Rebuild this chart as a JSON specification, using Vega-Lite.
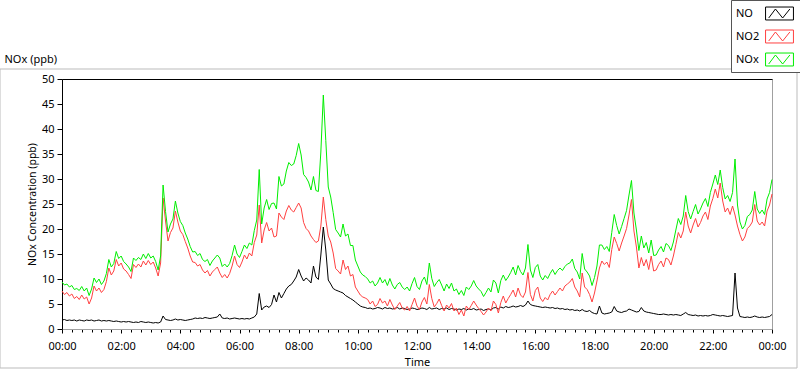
{
  "$schema": "https://vega.github.io/schema/vega-lite/v6.json",
  "width": 710,
  "height": 250,
  "autosize": {"type": "none"},
  "padding": {"left": 62, "top": 79, "right": 28, "bottom": 40},
  "background": "#ffffff",
  "config": {
    "view": {"stroke": "#a0a0a0", "strokeWidth": 1},
    "font": "Noto Sans"
  },
  "data": {"values": [
{"m":0,"NO":1.8,"NO2":7.6,"NOx":9.4},{"m":5,"NO":1.9,"NO2":6.9,"NOx":8.8},{"m":10,"NO":1.7,"NO2":7.3,"NOx":9.0},{"m":15,"NO":1.8,"NO2":6.6,"NOx":8.4},{"m":20,"NO":1.7,"NO2":7.0,"NOx":8.7},{"m":25,"NO":1.8,"NO2":6.1,"NOx":7.9},{"m":30,"NO":1.6,"NO2":6.5,"NOx":8.1},{"m":35,"NO":1.8,"NO2":5.9,"NOx":7.7},{"m":40,"NO":1.7,"NO2":6.8,"NOx":8.5},{"m":45,"NO":1.6,"NO2":6.0,"NOx":7.6},{"m":50,"NO":1.8,"NO2":6.4,"NOx":8.2},{"m":55,"NO":1.7,"NO2":5.0,"NOx":6.7},
{"m":60,"NO":1.8,"NO2":6.2,"NOx":8.0},{"m":65,"NO":1.6,"NO2":8.6,"NOx":10.2},{"m":70,"NO":1.7,"NO2":7.6,"NOx":9.3},{"m":75,"NO":1.8,"NO2":8.2,"NOx":10.0},{"m":80,"NO":1.6,"NO2":7.3,"NOx":8.9},{"m":85,"NO":1.7,"NO2":7.9,"NOx":9.6},{"m":90,"NO":1.6,"NO2":9.5,"NOx":11.1},{"m":95,"NO":1.7,"NO2":12.2,"NOx":13.9},{"m":100,"NO":1.6,"NO2":10.8,"NOx":12.4},{"m":105,"NO":1.5,"NO2":11.6,"NOx":13.1},{"m":110,"NO":1.6,"NO2":13.9,"NOx":15.5},{"m":115,"NO":1.5,"NO2":12.6,"NOx":14.1},
{"m":120,"NO":1.4,"NO2":13.2,"NOx":14.6},{"m":125,"NO":1.5,"NO2":12.0,"NOx":13.5},{"m":130,"NO":1.4,"NO2":11.6,"NOx":13.0},{"m":135,"NO":1.5,"NO2":10.9,"NOx":12.4},{"m":140,"NO":1.4,"NO2":10.1,"NOx":11.5},{"m":145,"NO":1.3,"NO2":12.9,"NOx":14.2},{"m":150,"NO":1.4,"NO2":12.3,"NOx":13.7},{"m":155,"NO":1.3,"NO2":13.0,"NOx":14.3},{"m":160,"NO":1.5,"NO2":12.4,"NOx":13.9},{"m":165,"NO":1.4,"NO2":13.6,"NOx":15.0},{"m":170,"NO":1.3,"NO2":12.8,"NOx":14.1},{"m":175,"NO":1.4,"NO2":13.7,"NOx":15.1},
{"m":180,"NO":1.3,"NO2":12.9,"NOx":14.2},{"m":185,"NO":1.2,"NO2":13.4,"NOx":14.6},{"m":190,"NO":1.3,"NO2":12.2,"NOx":13.5},{"m":195,"NO":1.2,"NO2":10.6,"NOx":11.8},{"m":200,"NO":1.4,"NO2":13.2,"NOx":14.6},{"m":205,"NO":2.6,"NO2":26.2,"NOx":28.8},{"m":210,"NO":1.9,"NO2":21.6,"NOx":23.5},{"m":215,"NO":1.8,"NO2":17.6,"NOx":19.4},{"m":220,"NO":1.7,"NO2":19.3,"NOx":21.0},{"m":225,"NO":1.8,"NO2":20.2,"NOx":22.0},{"m":230,"NO":2.0,"NO2":23.6,"NOx":25.6},{"m":235,"NO":1.8,"NO2":21.4,"NOx":23.2},
{"m":240,"NO":1.9,"NO2":19.6,"NOx":21.5},{"m":245,"NO":1.8,"NO2":18.9,"NOx":20.7},{"m":250,"NO":1.7,"NO2":17.5,"NOx":19.2},{"m":255,"NO":1.8,"NO2":16.2,"NOx":18.0},{"m":260,"NO":1.9,"NO2":14.6,"NOx":16.5},{"m":265,"NO":2.0,"NO2":13.4,"NOx":15.4},{"m":270,"NO":2.2,"NO2":13.3,"NOx":15.5},{"m":275,"NO":2.1,"NO2":12.6,"NOx":14.7},{"m":280,"NO":2.2,"NO2":12.9,"NOx":15.1},{"m":285,"NO":2.1,"NO2":11.8,"NOx":13.9},{"m":290,"NO":2.3,"NO2":11.2,"NOx":13.5},{"m":295,"NO":2.2,"NO2":11.7,"NOx":13.9},
{"m":300,"NO":2.1,"NO2":10.6,"NOx":12.7},{"m":305,"NO":2.2,"NO2":11.4,"NOx":13.6},{"m":310,"NO":2.3,"NO2":11.9,"NOx":14.2},{"m":315,"NO":2.4,"NO2":12.4,"NOx":14.8},{"m":320,"NO":3.0,"NO2":11.2,"NOx":14.2},{"m":325,"NO":2.2,"NO2":10.3,"NOx":12.5},{"m":330,"NO":2.1,"NO2":10.9,"NOx":13.0},{"m":335,"NO":2.2,"NO2":10.2,"NOx":12.4},{"m":340,"NO":2.0,"NO2":11.1,"NOx":13.1},{"m":345,"NO":2.1,"NO2":12.6,"NOx":14.7},{"m":350,"NO":2.2,"NO2":14.6,"NOx":16.8},{"m":355,"NO":2.1,"NO2":12.9,"NOx":15.0},
{"m":360,"NO":2.0,"NO2":12.3,"NOx":14.3},{"m":365,"NO":2.1,"NO2":13.4,"NOx":15.5},{"m":370,"NO":2.0,"NO2":14.8,"NOx":16.8},{"m":375,"NO":2.1,"NO2":14.0,"NOx":16.1},{"m":380,"NO":2.0,"NO2":15.2,"NOx":17.2},{"m":385,"NO":2.2,"NO2":14.6,"NOx":16.8},{"m":390,"NO":2.4,"NO2":17.3,"NOx":19.7},{"m":395,"NO":3.0,"NO2":18.8,"NOx":21.8},{"m":400,"NO":7.1,"NO2":24.8,"NOx":31.9},{"m":405,"NO":3.8,"NO2":17.2,"NOx":21.0},{"m":410,"NO":4.4,"NO2":19.8,"NOx":24.2},{"m":415,"NO":4.6,"NO2":21.3,"NOx":25.9},
{"m":420,"NO":4.3,"NO2":19.6,"NOx":23.9},{"m":425,"NO":4.9,"NO2":20.2,"NOx":25.1},{"m":430,"NO":6.8,"NO2":18.4,"NOx":25.2},{"m":435,"NO":5.4,"NO2":18.6,"NOx":24.0},{"m":440,"NO":7.3,"NO2":23.2,"NOx":30.5},{"m":445,"NO":6.2,"NO2":22.4,"NOx":28.6},{"m":450,"NO":7.1,"NO2":21.9,"NOx":29.0},{"m":455,"NO":8.0,"NO2":23.6,"NOx":31.6},{"m":460,"NO":8.6,"NO2":24.7,"NOx":33.3},{"m":465,"NO":8.9,"NO2":23.8,"NOx":32.7},{"m":470,"NO":9.6,"NO2":23.4,"NOx":33.0},{"m":475,"NO":10.4,"NO2":24.3,"NOx":34.7},
{"m":480,"NO":11.9,"NO2":25.2,"NOx":37.1},{"m":485,"NO":10.6,"NO2":24.2,"NOx":34.8},{"m":490,"NO":9.6,"NO2":21.3,"NOx":30.9},{"m":495,"NO":10.2,"NO2":20.1,"NOx":30.3},{"m":500,"NO":9.8,"NO2":19.6,"NOx":29.4},{"m":505,"NO":9.2,"NO2":18.6,"NOx":27.8},{"m":510,"NO":12.6,"NO2":17.9,"NOx":30.5},{"m":515,"NO":10.4,"NO2":17.3,"NOx":27.7},{"m":520,"NO":9.9,"NO2":17.6,"NOx":27.5},{"m":525,"NO":14.8,"NO2":20.6,"NOx":35.4},{"m":530,"NO":20.4,"NO2":26.4,"NOx":46.8},{"m":535,"NO":15.8,"NO2":21.9,"NOx":37.7},
{"m":540,"NO":9.8,"NO2":18.6,"NOx":28.4},{"m":545,"NO":9.0,"NO2":17.4,"NOx":26.4},{"m":550,"NO":8.1,"NO2":15.2,"NOx":23.3},{"m":555,"NO":7.8,"NO2":12.1,"NOx":19.9},{"m":560,"NO":7.6,"NO2":11.6,"NOx":19.2},{"m":565,"NO":7.4,"NO2":11.0,"NOx":18.4},{"m":570,"NO":7.2,"NO2":13.8,"NOx":21.0},{"m":575,"NO":6.7,"NO2":11.9,"NOx":18.6},{"m":580,"NO":6.4,"NO2":12.6,"NOx":19.0},{"m":585,"NO":6.1,"NO2":10.6,"NOx":16.7},{"m":590,"NO":5.8,"NO2":10.9,"NOx":16.7},{"m":595,"NO":5.4,"NO2":8.4,"NOx":13.8},
{"m":600,"NO":5.0,"NO2":7.6,"NOx":12.6},{"m":605,"NO":4.6,"NO2":6.8,"NOx":11.4},{"m":610,"NO":4.4,"NO2":6.4,"NOx":10.8},{"m":615,"NO":4.3,"NO2":6.2,"NOx":10.5},{"m":620,"NO":4.1,"NO2":5.9,"NOx":10.0},{"m":625,"NO":4.2,"NO2":5.0,"NOx":9.2},{"m":630,"NO":4.0,"NO2":5.6,"NOx":9.6},{"m":635,"NO":4.1,"NO2":4.5,"NOx":8.6},{"m":640,"NO":4.3,"NO2":4.9,"NOx":9.2},{"m":645,"NO":4.2,"NO2":6.1,"NOx":10.3},{"m":650,"NO":4.0,"NO2":5.2,"NOx":9.2},{"m":655,"NO":4.3,"NO2":5.6,"NOx":9.9},
{"m":660,"NO":4.1,"NO2":4.6,"NOx":8.7},{"m":665,"NO":4.2,"NO2":5.9,"NOx":10.1},{"m":670,"NO":4.0,"NO2":4.8,"NOx":8.8},{"m":675,"NO":4.1,"NO2":3.9,"NOx":8.0},{"m":680,"NO":4.3,"NO2":4.6,"NOx":8.9},{"m":685,"NO":4.0,"NO2":5.3,"NOx":9.3},{"m":690,"NO":4.2,"NO2":4.2,"NOx":8.4},{"m":695,"NO":4.1,"NO2":3.8,"NOx":7.9},{"m":700,"NO":3.9,"NO2":4.5,"NOx":8.4},{"m":705,"NO":4.0,"NO2":3.6,"NOx":7.6},{"m":710,"NO":4.2,"NO2":4.9,"NOx":9.1},{"m":715,"NO":4.1,"NO2":6.2,"NOx":10.3},
{"m":720,"NO":3.9,"NO2":4.6,"NOx":8.5},{"m":725,"NO":4.0,"NO2":3.9,"NOx":7.9},{"m":730,"NO":4.2,"NO2":5.4,"NOx":9.6},{"m":735,"NO":4.1,"NO2":6.3,"NOx":10.4},{"m":740,"NO":3.9,"NO2":5.0,"NOx":8.9},{"m":745,"NO":4.3,"NO2":8.9,"NOx":13.2},{"m":750,"NO":4.0,"NO2":6.1,"NOx":10.1},{"m":755,"NO":4.1,"NO2":4.4,"NOx":8.5},{"m":760,"NO":4.2,"NO2":5.1,"NOx":9.3},{"m":765,"NO":3.9,"NO2":6.0,"NOx":9.9},{"m":770,"NO":4.1,"NO2":4.7,"NOx":8.8},{"m":775,"NO":4.0,"NO2":3.6,"NOx":7.6},
{"m":780,"NO":4.2,"NO2":4.8,"NOx":9.0},{"m":785,"NO":3.9,"NO2":4.2,"NOx":8.1},{"m":790,"NO":4.1,"NO2":5.1,"NOx":9.2},{"m":795,"NO":4.0,"NO2":3.6,"NOx":7.6},{"m":800,"NO":3.8,"NO2":4.2,"NOx":8.0},{"m":805,"NO":4.0,"NO2":2.9,"NOx":6.9},{"m":810,"NO":3.9,"NO2":3.8,"NOx":7.7},{"m":815,"NO":4.1,"NO2":2.6,"NOx":6.7},{"m":820,"NO":3.8,"NO2":4.6,"NOx":8.4},{"m":825,"NO":4.0,"NO2":3.9,"NOx":7.9},{"m":830,"NO":3.9,"NO2":4.7,"NOx":8.6},{"m":835,"NO":4.1,"NO2":5.6,"NOx":9.7},
{"m":840,"NO":3.8,"NO2":4.8,"NOx":8.6},{"m":845,"NO":3.9,"NO2":4.1,"NOx":8.0},{"m":850,"NO":4.0,"NO2":3.5,"NOx":7.5},{"m":855,"NO":3.7,"NO2":2.8,"NOx":6.5},{"m":860,"NO":3.9,"NO2":3.4,"NOx":7.3},{"m":865,"NO":4.0,"NO2":4.2,"NOx":8.2},{"m":870,"NO":3.8,"NO2":3.6,"NOx":7.4},{"m":875,"NO":4.2,"NO2":5.6,"NOx":9.8},{"m":880,"NO":4.3,"NO2":4.9,"NOx":9.2},{"m":885,"NO":4.0,"NO2":3.2,"NOx":7.2},{"m":890,"NO":4.4,"NO2":5.3,"NOx":9.7},{"m":895,"NO":4.2,"NO2":6.6,"NOx":10.8},
{"m":900,"NO":4.5,"NO2":5.2,"NOx":9.7},{"m":905,"NO":4.3,"NO2":6.1,"NOx":10.4},{"m":910,"NO":4.4,"NO2":6.9,"NOx":11.3},{"m":915,"NO":4.6,"NO2":7.8,"NOx":12.4},{"m":920,"NO":4.4,"NO2":6.4,"NOx":10.8},{"m":925,"NO":4.5,"NO2":8.2,"NOx":12.7},{"m":930,"NO":4.7,"NO2":6.8,"NOx":11.5},{"m":935,"NO":4.5,"NO2":6.3,"NOx":10.8},{"m":940,"NO":4.8,"NO2":7.4,"NOx":12.2},{"m":945,"NO":5.6,"NO2":11.3,"NOx":16.9},{"m":950,"NO":4.9,"NO2":6.9,"NOx":11.8},{"m":955,"NO":4.7,"NO2":5.6,"NOx":10.3},
{"m":960,"NO":4.6,"NO2":7.7,"NOx":12.3},{"m":965,"NO":4.5,"NO2":8.4,"NOx":12.9},{"m":970,"NO":4.4,"NO2":6.2,"NOx":10.6},{"m":975,"NO":4.3,"NO2":5.5,"NOx":9.8},{"m":980,"NO":4.4,"NO2":6.3,"NOx":10.7},{"m":985,"NO":4.3,"NO2":5.8,"NOx":10.1},{"m":990,"NO":4.2,"NO2":6.9,"NOx":11.1},{"m":995,"NO":4.3,"NO2":7.6,"NOx":11.9},{"m":1000,"NO":4.1,"NO2":6.8,"NOx":10.9},{"m":1005,"NO":4.2,"NO2":7.5,"NOx":11.7},{"m":1010,"NO":4.0,"NO2":8.2,"NOx":12.2},{"m":1015,"NO":4.1,"NO2":7.6,"NOx":11.7},
{"m":1020,"NO":3.9,"NO2":8.6,"NOx":12.5},{"m":1025,"NO":4.0,"NO2":9.0,"NOx":13.0},{"m":1030,"NO":3.8,"NO2":9.4,"NOx":13.2},{"m":1035,"NO":3.9,"NO2":10.1,"NOx":14.0},{"m":1040,"NO":3.7,"NO2":8.4,"NOx":12.1},{"m":1045,"NO":3.8,"NO2":7.6,"NOx":11.4},{"m":1050,"NO":3.6,"NO2":6.4,"NOx":10.0},{"m":1055,"NO":3.9,"NO2":11.2,"NOx":15.1},{"m":1060,"NO":3.6,"NO2":8.4,"NOx":12.0},{"m":1065,"NO":3.5,"NO2":7.9,"NOx":11.4},{"m":1070,"NO":3.7,"NO2":6.9,"NOx":10.6},{"m":1075,"NO":3.3,"NO2":5.4,"NOx":8.7},
{"m":1080,"NO":3.1,"NO2":7.2,"NOx":10.3},{"m":1085,"NO":3.0,"NO2":9.6,"NOx":12.6},{"m":1090,"NO":4.6,"NO2":12.2,"NOx":16.8},{"m":1095,"NO":3.2,"NO2":13.6,"NOx":16.8},{"m":1100,"NO":3.0,"NO2":12.9,"NOx":15.9},{"m":1105,"NO":3.1,"NO2":13.4,"NOx":16.5},{"m":1110,"NO":3.2,"NO2":12.3,"NOx":15.5},{"m":1115,"NO":3.4,"NO2":15.9,"NOx":19.3},{"m":1120,"NO":4.5,"NO2":18.4,"NOx":22.9},{"m":1125,"NO":3.6,"NO2":17.1,"NOx":20.7},{"m":1130,"NO":3.4,"NO2":15.6,"NOx":19.0},{"m":1135,"NO":3.3,"NO2":17.2,"NOx":20.5},
{"m":1140,"NO":3.5,"NO2":18.6,"NOx":22.1},{"m":1145,"NO":3.6,"NO2":20.1,"NOx":23.7},{"m":1150,"NO":4.0,"NO2":22.8,"NOx":26.8},{"m":1155,"NO":3.8,"NO2":25.9,"NOx":29.7},{"m":1160,"NO":3.6,"NO2":19.6,"NOx":23.2},{"m":1165,"NO":3.4,"NO2":16.4,"NOx":19.8},{"m":1170,"NO":3.5,"NO2":12.2,"NOx":15.7},{"m":1175,"NO":4.3,"NO2":14.3,"NOx":18.6},{"m":1180,"NO":3.6,"NO2":12.6,"NOx":16.2},{"m":1185,"NO":3.4,"NO2":13.9,"NOx":17.3},{"m":1190,"NO":3.3,"NO2":11.9,"NOx":15.2},{"m":1195,"NO":3.2,"NO2":14.6,"NOx":17.8},
{"m":1200,"NO":3.1,"NO2":11.6,"NOx":14.7},{"m":1205,"NO":3.0,"NO2":11.8,"NOx":14.8},{"m":1210,"NO":2.9,"NO2":12.9,"NOx":15.8},{"m":1215,"NO":2.9,"NO2":13.6,"NOx":16.5},{"m":1220,"NO":3.0,"NO2":12.4,"NOx":15.4},{"m":1225,"NO":2.9,"NO2":14.2,"NOx":17.1},{"m":1230,"NO":2.8,"NO2":13.9,"NOx":16.7},{"m":1235,"NO":2.9,"NO2":12.8,"NOx":15.7},{"m":1240,"NO":2.8,"NO2":14.6,"NOx":17.4},{"m":1245,"NO":2.9,"NO2":16.9,"NOx":19.8},{"m":1250,"NO":2.8,"NO2":19.3,"NOx":22.1},{"m":1255,"NO":2.7,"NO2":18.2,"NOx":20.9},
{"m":1260,"NO":3.0,"NO2":19.6,"NOx":22.6},{"m":1265,"NO":3.3,"NO2":23.4,"NOx":26.7},{"m":1270,"NO":2.9,"NO2":20.6,"NOx":23.5},{"m":1275,"NO":2.8,"NO2":19.2,"NOx":22.0},{"m":1280,"NO":2.7,"NO2":20.8,"NOx":23.5},{"m":1285,"NO":2.8,"NO2":22.1,"NOx":24.9},{"m":1290,"NO":2.6,"NO2":20.4,"NOx":23.0},{"m":1295,"NO":2.7,"NO2":21.3,"NOx":24.0},{"m":1300,"NO":2.6,"NO2":22.6,"NOx":25.2},{"m":1305,"NO":2.7,"NO2":23.4,"NOx":26.1},{"m":1310,"NO":2.6,"NO2":21.9,"NOx":24.5},{"m":1315,"NO":2.7,"NO2":24.6,"NOx":27.3},
{"m":1320,"NO":2.9,"NO2":26.1,"NOx":29.0},{"m":1325,"NO":2.8,"NO2":28.0,"NOx":30.8},{"m":1330,"NO":2.7,"NO2":26.2,"NOx":28.9},{"m":1335,"NO":2.6,"NO2":29.2,"NOx":31.8},{"m":1340,"NO":2.7,"NO2":25.6,"NOx":28.3},{"m":1345,"NO":2.6,"NO2":23.4,"NOx":26.0},{"m":1350,"NO":2.5,"NO2":24.2,"NOx":26.7},{"m":1355,"NO":2.6,"NO2":22.9,"NOx":25.5},{"m":1360,"NO":2.7,"NO2":24.6,"NOx":27.3},{"m":1365,"NO":11.2,"NO2":22.8,"NOx":34.0},{"m":1370,"NO":4.2,"NO2":20.6,"NOx":24.8},{"m":1375,"NO":2.5,"NO2":18.9,"NOx":21.4},
{"m":1380,"NO":2.4,"NO2":17.6,"NOx":20.0},{"m":1385,"NO":2.3,"NO2":18.4,"NOx":20.7},{"m":1390,"NO":2.4,"NO2":20.1,"NOx":22.5},{"m":1395,"NO":2.3,"NO2":20.6,"NOx":22.9},{"m":1400,"NO":2.4,"NO2":21.4,"NOx":23.8},{"m":1405,"NO":2.6,"NO2":24.9,"NOx":27.5},{"m":1410,"NO":2.4,"NO2":21.6,"NOx":24.0},{"m":1415,"NO":2.3,"NO2":20.8,"NOx":23.1},{"m":1420,"NO":2.4,"NO2":21.4,"NOx":23.8},{"m":1425,"NO":2.3,"NO2":20.6,"NOx":22.9},{"m":1430,"NO":2.4,"NO2":23.6,"NOx":26.0},{"m":1435,"NO":2.5,"NO2":24.8,"NOx":27.3},
{"m":1440,"NO":2.9,"NO2":27.0,"NOx":29.9}
  ]},
  "layer": [
    {
      "transform": [{"fold": ["NO", "NO2", "NOx"], "as": ["series", "value"]}],
      "mark": {"type": "line", "strokeWidth": 1, "interpolate": "linear"},
      "encoding": {
        "x": {"field": "m", "type": "quantitative",
          "scale": {"domain": [0, 1440], "nice": false, "zero": false},
          "axis": {"title": "Time",
            "values": [0,20,40,60,80,100,120,140,160,180,200,220,240,260,280,300,320,340,360,380,400,420,440,460,480,500,520,540,560,580,600,620,640,660,680,700,720,740,760,780,800,820,840,860,880,900,920,940,960,980,1000,1020,1040,1060,1080,1100,1120,1140,1160,1180,1200,1220,1240,1260,1280,1300,1320,1340,1360,1380,1400,1420,1440],
            "labelExpr": "datum.value % 120 == 0 ? (((floor(datum.value/60) % 24) < 10 ? '0' : '') + (floor(datum.value/60) % 24) + ':00') : ''",
            "tickSize": {"condition": {"test": "datum.value % 120 == 0", "value": 4}, "value": 3},
            "tickColor": "#000000", "domainColor": "#a0a0a0", "grid": false,
            "labelPadding": 7, "labelFont": "Noto Sans", "labelFontSize": 11, "labelColor": "#000000",
            "labelOverlap": false, "labelFlush": false,
            "titleFont": "Noto Sans", "titleFontSize": 11, "titleFontWeight": "normal", "titleColor": "#000000", "titlePadding": 5}
        },
        "y": {"field": "value", "type": "quantitative",
          "scale": {"domain": [0, 50], "nice": false},
          "axis": {"title": "NOx Concentration (ppb)",
            "values": [0,5,10,15,20,25,30,35,40,45,50],
            "tickSize": 5, "tickColor": "#000000", "domainColor": "#000000", "grid": false,
            "labelPadding": 3, "labelFont": "Noto Sans", "labelFontSize": 11, "labelColor": "#000000",
            "titleFont": "Noto Sans", "titleFontSize": 10.5, "titleFontWeight": "normal", "titleColor": "#000000", "titlePadding": 4}
        },
        "color": {"field": "series", "type": "nominal",
          "scale": {"domain": ["NO", "NO2", "NOx"], "range": ["#000000", "#ff4040", "#00ee00"]},
          "legend": {"orient": "none", "legendX": 669, "legendY": -79, "title": null, "direction": "vertical", "zindex": 2,
            "symbolType": "M-1.55,-0.72H1.55V0.72H-1.55Z M-1.2,0.5L-0.45,-0.5L0.35,0.5L1.15,-0.5",
            "symbolSize": 324, "symbolStrokeWidth": 1, "symbolOffset": 35, "labelOffset": -53,
            "rowPadding": 5, "padding": 4, "strokeColor": "#555555", "fillColor": "#ffffff",
            "labelFont": "Noto Sans", "labelFontSize": 11, "labelColor": "#000000"}
        }
      }
    },
    {
      "data": {"values": []},
      "mark": {"type": "point", "filled": true},
      "encoding": {
        "x": {"field": "m", "type": "quantitative",
          "scale": {"domain": [0, 1440], "nice": false, "zero": false},
          "axis": {"orient": "top", "labels": false, "ticks": false, "domainColor": "#000000", "grid": false,
            "title": "NOx (ppb)", "titleX": -58, "titleY": -17, "titleAlign": "left", "titleAnchor": "start",
            "titleBaseline": "alphabetic", "titleAngle": 0,
            "titleFont": "Noto Sans", "titleFontSize": 11, "titleFontWeight": "normal", "titleColor": "#000000"}
        },
        "fill": {"field": "m", "type": "quantitative",
          "scale": {"domain": [0, 1], "range": ["rgba(255,255,255,0)", "rgba(255,255,255,0)"]},
          "legend": {"type": "gradient", "orient": "none", "legendX": -62, "legendY": -10, "direction": "horizontal", "zindex": 1,
            "gradientLength": 797, "gradientThickness": 299, "title": null, "padding": 0,
            "labelExpr": "''", "labelOpacity": 0, "labelFontSize": 1,
            "gradientStrokeColor": "#a0a0a0", "gradientStrokeWidth": 1}
        }
      }
    }
  ],
  "resolve": {"axis": {"x": "independent"}}
}
